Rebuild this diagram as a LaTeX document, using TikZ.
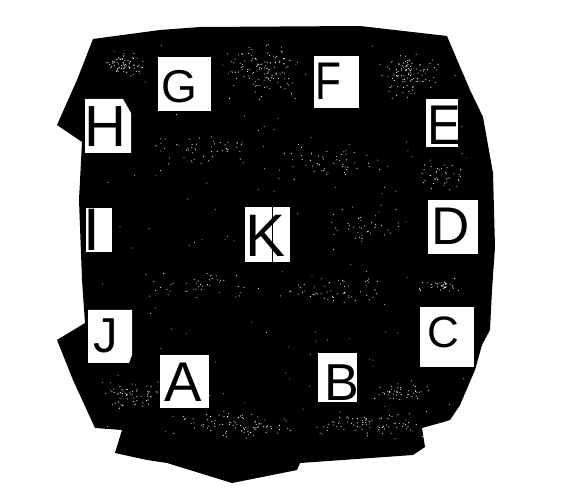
\documentclass[tikz,border=0pt]{standalone}
\usepackage{fontspec}
\setmainfont{Liberation Sans}
\begin{document}
\begin{tikzpicture}[x=1pt,y=-1pt,
  card/.style={fill=white},
  lett/.style={anchor=base,inner sep=0pt,text=black}]
\useasboundingbox[fill=white] (0,0) rectangle (563,489);
% black irregular body
\path[fill=black] (93,39) -- (160,30) -- (200,27) -- (360,26) -- (447,36) -- (458,62)
  -- (470,90) -- (483,117) -- (493,173) -- (495,247) -- (492,290) -- (490,330)
  -- (482,345) -- (475,370) -- (460,405) -- (450,420) -- (440,423) -- (422,428)
  -- (425,447) -- (413,455) -- (300,463) -- (297,470) -- (232,483) -- (167,463)
  -- (147,460) -- (115,453) -- (122,430) -- (95,428) -- (73,380) -- (57,340)
  -- (85,323) -- (82,280) -- (79,200) -- (82,142) -- (57,125) -- (77,80) -- cycle;
% speckle texture in patches
\pgfmathsetseed{11}
\foreach \cx/\cy/\rx/\ry/\n in {125/65/22/12/70, 265/72/38/30/120, 410/75/32/25/100,
  200/150/60/15/50, 330/160/60/20/50, 440/175/25/15/40, 360/228/40/25/35,
  200/285/60/15/40, 330/292/70/15/50, 440/285/25/10/35,
  130/395/30/15/60, 240/425/70/15/90, 370/425/60/15/80, 400/392/30/12/45} {
  \foreach \i in {1,...,\n} {
    \pgfmathsetmacro\xx{\cx+\rx*(rnd+rnd-1)}\pgfmathsetmacro\yy{\cy+\ry*(rnd+rnd-1)}
    \fill[white] (\xx,\yy) circle (0.55);}}
\foreach \i in {1,...,150} {
  \pgfmathsetmacro\xx{100+370*rnd}\pgfmathsetmacro\yy{45+390*rnd}
  \fill[white] (\xx,\yy) circle (0.45);}
% cards
\fill[card] (158,57) rectangle (211,111);
\fill[card] (314,56) rectangle (359,108);
\fill[card] (85,99) -- (123,99) -- (131,113) -- (131,153) -- (85,153) -- cycle;
\fill[card] (426,99) rectangle (458,147);
\fill[card] (86,208) rectangle (112,252);
\fill[card] (245,207) rectangle (290,262);
\fill[card] (428,200) rectangle (478,254);
\fill[card] (88,310) -- (132,310) -- (132,355) -- (129,363) -- (88,363) -- cycle;
\fill[card] (420,307) rectangle (474,367);
\fill[card] (160,355) rectangle (209,408);
\fill[card] (318,353) rectangle (357,402);
\draw[black,line width=0.8pt] (272,207) -- (272,262);
% letters
\node[lett,font=\fontsize{46}{46}\selectfont] (G) at (179,103) {G};
\node[lett,font=\fontsize{53}{53}\selectfont,xscale=0.8] (F) at (328,100) {F};
\node[lett,font=\fontsize{58}{58}\selectfont] (H) at (105,147) {H};
\node[lett,font=\fontsize{56}{56}\selectfont,xscale=0.9] (E) at (444,145) {E};
\node[lett,font=\fontsize{60}{60}\selectfont] (I) at (92,251) {I};
\node[lett,font=\fontsize{60}{60}\selectfont] (K) at (266,257) {K};
\node[lett,font=\fontsize{53}{53}\selectfont] (D) at (451,245) {D};
\node[lett,font=\fontsize{49}{49}\selectfont] (J) at (106,353) {J};
\node[lett,font=\fontsize{44}{44}\selectfont] (C) at (443,348) {C};
\node[lett,font=\fontsize{56}{56}\selectfont] (A) at (183,402) {A};
\node[lett,font=\fontsize{52}{52}\selectfont] (B) at (342,400) {B};
\end{tikzpicture}
\end{document}
